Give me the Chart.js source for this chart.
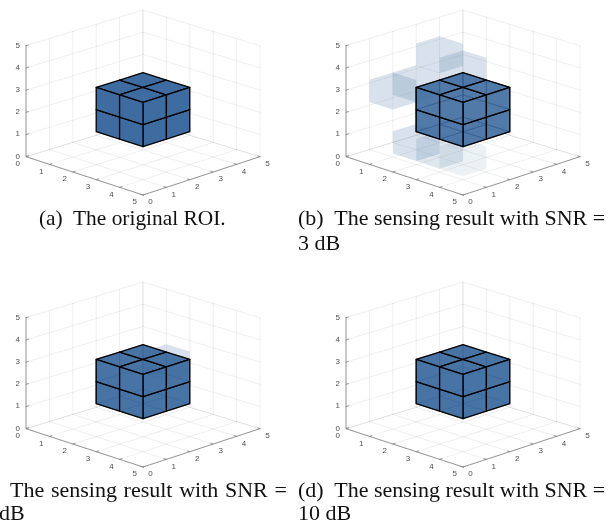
<!DOCTYPE html>
<html>
<head>
<meta charset="utf-8">
<script src="https://cdn.jsdelivr.net/npm/chart.js@4"></script>
<style>
  html, body { margin: 0; padding: 0; background: #fff; }
  body { position: relative; width: 616px; height: 523px; overflow: hidden; }
  canvas { position: absolute; }
  .cap { position: absolute; font-family: "Liberation Serif", serif; font-size: 22px; color: #111; white-space: pre; line-height: 20px; }
</style>
</head>
<body>
<canvas id="roiA" width="290" height="212" style="left:0;top:0"></canvas>
<canvas id="roiB" width="290" height="212" style="left:320px;top:0"></canvas>
<canvas id="roiC" width="290" height="212" style="left:0;top:272px"></canvas>
<canvas id="roiD" width="290" height="212" style="left:320px;top:272px"></canvas>

<div class="cap" style="left:39px;top:208px;font-size:21.4px">(a)  The original ROI.</div>
<div class="cap" style="left:298px;top:208px">(b)  The sensing result with SNR =</div>
<div class="cap" style="left:298px;top:233px">3 dB</div>
<div class="cap" style="left:10px;top:480px;word-spacing:1.2px">The sensing result with SNR =</div>
<div class="cap" style="left:-1px;top:503px">dB</div>
<div class="cap" style="left:298px;top:480px">(d)  The sensing result with SNR =</div>
<div class="cap" style="left:298px;top:503px">10 dB</div>

<script>
// axis ticks, same on x, y and z
const ticks = [0, 1, 2, 3, 4, 5];
const tickLabels = ['0', '1', '2', '3', '4', '5'];

// the ROI: 2 x 2 x 2 voxels, lower corners
const roiX = [1.5, 2.5];
const roiY = [1.5, 2.5];
const roiZ = [1.15, 2.15];

// false detections: [x, y, z, strength]
const ghostsA = [];
const ghostsB = [
  [0.5, 3.5, 2.5, 1],
  [0.5, 2.5, 3.46, 1],
  [0.5, 1.5, 2.48, 1],
  [0.5, 0.5, 2.48, 1],
  [1.5, 0.5, 0.5, 1],
  [2.5, 0.5, 0.5, 0.9],
  [3.5, 0.5, 0.5, 0.5]
];
const ghostsC = [[2.5, 2.5, 2.5, 1.1]];
const ghostsD = [];

// view of the 3d box on the 2d plot
function project(x, y, z) {
  return {
    x: 26 + 23.4 * (x + y),
    y: 156.7 + 7.66 * x - 7.14 * y - 0.104 * x * y - 22.2 * z
  };
}

const blue = '62,108,160';

function lineSet(pts, color, width) {
  return {
    data: pts.map(p => project(p[0], p[1], p[2])),
    showLine: true, pointRadius: 0, borderColor: color, borderWidth: width,
    fill: false, borderCapStyle: 'round', borderJoinStyle: 'round'
  };
}

function faceSet(pts, fillColor, edge, width) {
  const s = lineSet(pts.concat([pts[0]]), edge, width);
  s.fill = 'shape';
  s.backgroundColor = fillColor;
  return s;
}

function voxelFaces(x, y, z, s) {
  const a = x + s, b = y + s, c = z + s;
  return {
    bottom: [[x, y, z], [a, y, z], [a, b, z], [x, b, z]],
    top: [[x, y, c], [a, y, c], [a, b, c], [x, b, c]],
    xlo: [[x, y, z], [x, b, z], [x, b, c], [x, y, c]],
    xhi: [[a, y, z], [a, b, z], [a, b, c], [a, y, c]],
    ylo: [[x, y, z], [a, y, z], [a, y, c], [x, y, c]],
    yhi: [[x, b, z], [a, b, z], [a, b, c], [x, b, c]]
  };
}

function buildBox() {
  const out = [];
  const grid = 'rgba(0,0,0,0.085)';
  const axis = '#808080';
  ticks.forEach(t => {
    out.push(lineSet([[t, 0, 0], [t, 5, 0]], grid, 0.8));
    out.push(lineSet([[0, t, 0], [5, t, 0]], grid, 0.8));
    out.push(lineSet([[0, t, 0], [0, t, 5]], grid, 0.8));
    out.push(lineSet([[0, 5, t], [0, 0, t]], grid, 0.8));
    out.push(lineSet([[t, 5, 0], [t, 5, 5]], grid, 0.8));
    out.push(lineSet([[0, 5, t], [5, 5, t]], grid, 0.8));
  });
  out.push(lineSet([[0, 0, 0], [5, 0, 0]], axis, 0.8));
  out.push(lineSet([[5, 0, 0], [5, 5, 0]], axis, 0.8));
  out.push(lineSet([[0, 0, 0], [0, 0, 5]], axis, 0.8));
  ticks.forEach(t => {
    out.push(lineSet([[t, 0, 0], [t, 0.1, 0]], axis, 0.8));
    out.push(lineSet([[5, t, 0], [4.9, t, 0]], axis, 0.8));
    out.push(lineSet([[0, 0, t], [0, 0.1, t]], axis, 0.8));
  });
  return out;
}

function buildGhosts(ghosts) {
  const out = [];
  ghosts.forEach(g => {
    const f = voxelFaces(g[0], g[1], g[2], 1);
    ['bottom', 'xlo', 'yhi', 'top', 'xhi', 'ylo'].forEach(k => {
      out.push(faceSet(f[k], 'rgba(' + blue + ',' + (0.1 * g[3]) + ')', 'rgba(0,0,0,0)', 0));
    });
  });
  return out;
}

function buildRoi(frontAlpha, hiddenAlpha) {
  const back = [], front = [];
  const hiddenEdge = 'rgba(15,30,60,' + hiddenAlpha + ')';
  const topZ = roiZ[roiZ.length - 1];
  const lowX = roiX[0], highX = roiX[roiX.length - 1];
  const lowY = roiY[0], highY = roiY[roiY.length - 1];
  roiX.forEach(x => roiY.forEach(y => roiZ.forEach(z => {
    const f = voxelFaces(x, y, z, 1);
    if (hiddenAlpha > 0) {
      if (z === roiZ[0]) back.push(faceSet(f.bottom, 'rgba(' + blue + ',0.35)', hiddenEdge, 0.9));
      if (x === lowX) back.push(faceSet(f.xlo, 'rgba(' + blue + ',0.35)', hiddenEdge, 0.9));
      if (y === highY) back.push(faceSet(f.yhi, 'rgba(' + blue + ',0.35)', hiddenEdge, 0.9));
    }
    const fill = 'rgba(' + blue + ',' + frontAlpha + ')';
    if (z === topZ) front.push(faceSet(f.top, fill, '#000', 1.3));
    if (x === highX) front.push(faceSet(f.xhi, fill, '#000', 1.3));
    if (y === lowY) front.push(faceSet(f.ylo, fill, '#000', 1.3));
  })));
  return back.concat(front);
}

const tickLabelPlugin = {
  id: 'tickLabels3d',
  afterDatasetsDraw(chart) {
    const c = chart.ctx;
    const sx = chart.scales.x, sy = chart.scales.y;
    c.save();
    c.font = '8px "Liberation Sans"';
    c.fillStyle = '#505050';
    c.textAlign = 'center';
    c.textBaseline = 'middle';
    const put = (p, dx, dy, txt) => {
      c.fillText(txt, sx.getPixelForValue(p.x) + dx, sy.getPixelForValue(p.y) + dy);
    };
    ticks.forEach((t, i) => {
      put(project(t, 0, 0), -8.2, 7, tickLabels[i]);
      put(project(5, t, 0), 7.4, 7.2, tickLabels[i]);
      put(project(0, 0, t), -8.3, -0.3, tickLabels[i]);
    });
    c.restore();
  }
};

function drawPanel(id, ghosts, frontAlpha, hiddenAlpha) {
  const sets = buildBox().concat(buildGhosts(ghosts), buildRoi(frontAlpha, hiddenAlpha));
  new Chart(document.getElementById(id), {
    type: 'scatter',
    // first dataset ends up on top, so flip the back to front list
    data: { datasets: sets.reverse() },
    options: {
      responsive: false,
      animation: false,
      layout: { padding: 0 },
      plugins: { legend: { display: false }, tooltip: { enabled: false }, filler: { propagate: false } },
      scales: {
        x: { type: 'linear', display: false, min: 0, max: 290 },
        y: { type: 'linear', display: false, min: 0, max: 212, reverse: true }
      }
    },
    plugins: [tickLabelPlugin]
  });
}

drawPanel('roiA', ghostsA, 1, 0);
drawPanel('roiB', ghostsB, 0.85, 0.8);
drawPanel('roiC', ghostsC, 0.92, 0.4);
drawPanel('roiD', ghostsD, 0.92, 0.4);
</script>
</body>
</html>
